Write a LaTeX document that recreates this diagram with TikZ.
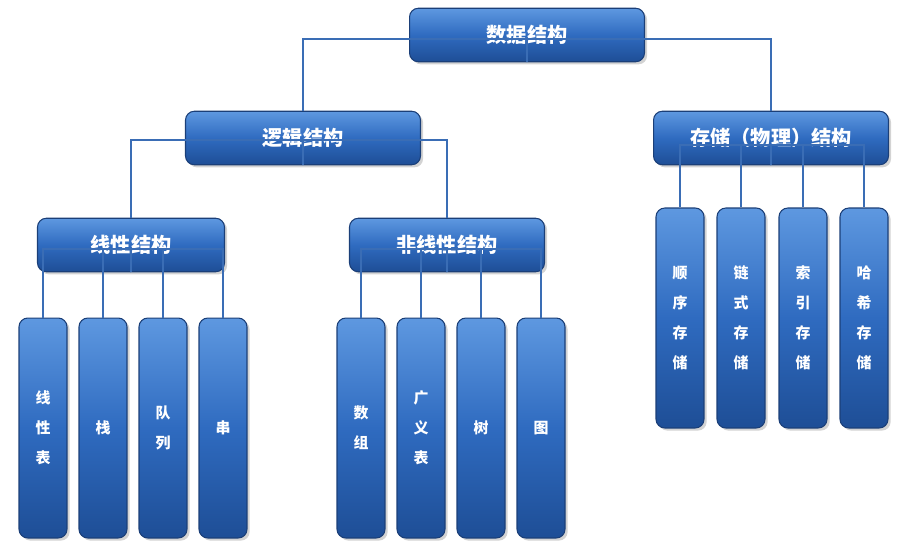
\documentclass[tikz,border=0pt]{standalone}
\usepackage{fontspec}
\setmainfont{Noto Sans CJK SC}
\usetikzlibrary{shadows}
\definecolor{bfill}{HTML}{2F6BC0}
\definecolor{btop}{HTML}{5E98E0}
\definecolor{bbot}{HTML}{1E4E96}
\definecolor{bdraw}{HTML}{1B3F78}
\definecolor{lnk}{HTML}{3A6DB5}
\begin{document}
\begin{tikzpicture}[x=0.02cm,y=-0.02cm,
  box/.style={draw=bdraw,line width=0.6pt,rounded corners=5pt,top color=btop,bottom color=bbot,middle color=bfill,
    text=white,font=\bfseries\fontsize{11.5}{13}\selectfont,drop shadow={opacity=0.35,shadow xshift=1.5pt,shadow yshift=-1.5pt},inner sep=0pt},
  big/.style={box,minimum width=4.7cm,minimum height=1.07cm},
  mid/.style={box,minimum height=1.07cm},
  leaf/.style={box,minimum width=0.96cm,minimum height=4.4cm,align=center,font=\bfseries\fontsize{8.5}{17}\selectfont},
  ln/.style={draw=lnk,line width=0.9pt}]
\useasboundingbox (0,0) rectangle (913,558);
\node[big] (root) at (527,35) {数据结构};
\node[big] (lj) at (303,138) {逻辑结构};
\node[big] (cc) at (771,138) {存储（物理）结构};
\node[mid,minimum width=3.74cm] (xx) at (131,245) {线性结构};
\node[mid,minimum width=3.9cm] (fx) at (447,245) {非线性结构};
\foreach \n/\x/\t in {a/43/线\\性\\表, b/103/栈, c/163/队\\列, d/223/串, e/361/数\\组, f/421/广\\义\\表, g/481/树, h/541/图}
  \node[leaf] (\n) at (\x,428) {\t};
\foreach \n/\x/\t in {p/680/顺\\序\\存\\储, q/741/链\\式\\存\\储, r/803/索\\引\\存\\储, s/864/哈\\希\\存\\储}
  \node[leaf] (\n) at (\x,318) {\t};
\begin{scope}[on background layer/.try]
\end{scope}
\draw[ln] (root.south) -- ++(0,-23) -| (lj.north);
\draw[ln] (root.south) ++(0,-23) -| (cc.north);
\draw[ln] (lj.south) -- ++(0,-25) -| (xx.north);
\draw[ln] (lj.south) ++(0,-25) -| (fx.north);
\foreach \n in {a,b,c,d} \draw[ln] (xx.south) -- ++(0,-23) -| (\n.north);
\foreach \n in {e,f,g,h} \draw[ln] (fx.south) -- ++(0,-23) -| (\n.north);
\foreach \n in {p,q,r,s} \draw[ln] (cc.south) -- ++(0,-20) -| (\n.north);
\end{tikzpicture}
\end{document}
